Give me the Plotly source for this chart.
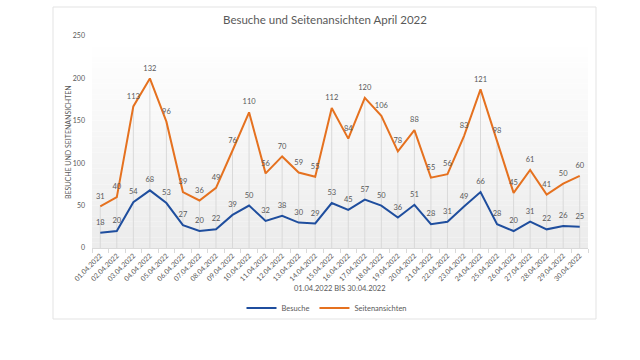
import numpy as np
import plotly.graph_objects as go

dates = ["%02d.04.2022" % d for d in range(1, 31)]
besuche = [18, 20, 54, 68, 53, 27, 20, 22, 39, 50, 32, 38, 30, 29, 53,
           45, 57, 50, 36, 51, 28, 31, 49, 66, 28, 20, 31, 22, 26, 25]
seitenansichten = [31, 40, 113, 132, 96, 39, 36, 49, 76, 110, 56, 70, 59, 55, 112,
                   84, 120, 106, 78, 88, 55, 56, 83, 121, 98, 45, 61, 41, 50, 60]
y_ticks = [0, 50, 100, 150, 200, 250]

BLUE = "#1F4E9E"
ORANGE = "#E5711F"
GREY = "#595959"
FONT = "Lato"

stacked_total = (np.array(besuche) + np.array(seitenansichten)).tolist()

fig = go.Figure()

# drop lines from the top (stacked) series down to the axis
fig.add_trace(go.Scatter(
    x=dates, y=stacked_total, mode="markers",
    marker=dict(size=0.1, color="rgba(0,0,0,0)"),
    error_y=dict(type="data", symmetric=False, array=[0] * len(dates),
                 arrayminus=stacked_total, color="#d9d9d9", thickness=1, width=0),
    showlegend=False, hoverinfo="skip"))

fig.add_trace(go.Scatter(
    x=dates, y=besuche, name="Besuche", mode="lines+markers+text",
    line=dict(color=BLUE, width=2),
    marker=dict(size=8, color="rgba(0,0,0,0)"),
    text=[str(v) for v in besuche], textposition="top center",
    textfont=dict(size=7.5, color=GREY, family=FONT)))

fig.add_trace(go.Scatter(
    x=dates, y=stacked_total, name="Seitenansichten", mode="lines+markers+text",
    line=dict(color=ORANGE, width=2),
    marker=dict(size=8, color="rgba(0,0,0,0)"),
    text=[str(v) for v in seitenansichten], textposition="top center",
    textfont=dict(size=7.5, color=GREY, family=FONT)))

# subtle vertical gradient in the plot area
shapes = []
n = 40
for i in range(n):
    t = i / (n - 1)
    c = int(round(255 - (255 - 236) * (1 - t)))
    shapes.append(dict(type="rect", xref="x domain", yref="y domain",
                       x0=0, x1=1, y0=i / n, y1=(i + 1) / n,
                       fillcolor="rgb(%d,%d,%d)" % (c, c, c),
                       line=dict(width=0), layer="below"))
# chart border
shapes.append(dict(type="rect", xref="paper", yref="paper",
                   x0=(53 - 92) / 496, x1=(596 - 92) / 496,
                   y0=(248 - 319) / 212, y1=(248 - 7) / 212,
                   line=dict(color="#e3e3e3", width=1), layer="below"))

fig.update_layout(
    width=640, height=360,
    margin=dict(l=92, r=52, t=36, b=112),
    paper_bgcolor="white", plot_bgcolor="white",
    font=dict(family=FONT, color=GREY),
    title=dict(text="Besuche und Seitenansichten April 2022",
               x=325 / 640, xanchor="center", y=1 - 20 / 360, yanchor="middle",
               font=dict(size=11.5, color=GREY, family=FONT)),
    showlegend=True,
    legend=dict(orientation="h", xref="container", yref="container",
                x=327 / 640, xanchor="center", y=1 - 308 / 360, yanchor="middle",
                font=dict(size=7.5, color=GREY, family=FONT),
                itemwidth=30, bgcolor="rgba(0,0,0,0)",
                traceorder="normal"),
    shapes=shapes,
    annotations=[
        dict(text="01.04.2022 BIS 30.04.2022", xref="paper", yref="paper",
             x=0.5, y=(248 - 288) / 212, xanchor="center", yanchor="middle",
             showarrow=False, font=dict(size=7.5, color=GREY, family=FONT)),
        dict(text="BESUCHE UND SEITENANSICHTEN", xref="paper", yref="paper",
             x=(68 - 92) / 496, y=0.5, xanchor="center", yanchor="middle",
             textangle=-90, showarrow=False,
             font=dict(size=7, color=GREY, family=FONT)),
    ],
)

fig.update_xaxes(type="category", showgrid=False, zeroline=False,
                 showline=True, linecolor="#d9d9d9", linewidth=1,
                 ticks="outside", tickson="boundaries", ticklen=4,
                 tickcolor="#d9d9d9", tickangle=-45,
                 tickfont=dict(size=7, color=GREY, family=FONT),
                 range=[-0.5, 29.5])
fig.update_yaxes(range=[0, 250], tickvals=y_ticks, showgrid=False,
                 zeroline=False, showline=False, ticks="",
                 tickfont=dict(size=7, color=GREY, family=FONT),
                 ticklabelstandoff=6)

fig.write_html("out.html", config={"displayModeBar": False},
               post_script="document.body.style.margin='0';document.body.style.padding='0';")
